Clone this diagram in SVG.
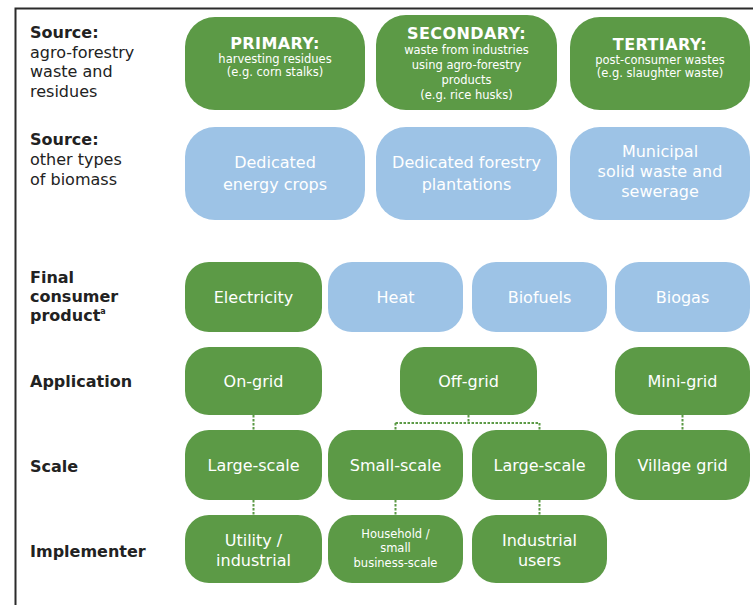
<svg xmlns="http://www.w3.org/2000/svg" width="753" height="605" viewBox="0 0 753 605">
<style>
  .g { fill: #5C9A46; }
  .b { fill: #9DC3E6; }
  text { font-family: "DejaVu Sans", Verdana, sans-serif; }
  .t { fill: #ffffff; font-size: 16px; text-anchor: middle; }
  .h { fill: #ffffff; font-size: 16px; font-weight: bold; text-anchor: middle; letter-spacing: 0.4px; }
  .s { fill: #ffffff; font-size: 11.5px; text-anchor: middle; }
  .lb { fill: #222222; font-size: 16px; font-weight: bold; }
  .lr { fill: #222222; font-size: 16px; }
  .c { stroke: #5C9A46; stroke-width: 2; stroke-dasharray: 2.5 1.5; fill: none; }
  .frame { stroke: #2b2b2b; stroke-width: 2; fill: none; }
</style>
<rect x="0" y="0" width="753" height="605" fill="#ffffff"/>
<path class="frame" d="M15.5,605 V8.5 H753"/>

<g id="labels">
  <text class="lb" x="30" y="38">Source:</text>
  <text class="lr" x="30" y="58">agro-forestry</text>
  <text class="lr" x="30" y="77">waste and</text>
  <text class="lr" x="30" y="97">residues</text>
  <text class="lb" x="30" y="145">Source:</text>
  <text class="lr" x="30" y="165">other types</text>
  <text class="lr" x="30" y="185">of biomass</text>
  <text class="lb" x="30" y="283">Final</text>
  <text class="lb" x="30" y="302">consumer</text>
  <text class="lb" x="30" y="321">product<tspan font-size="8" dy="-7">a</tspan></text>
  <text class="lb" x="30" y="387">Application</text>
  <text class="lb" x="30" y="472">Scale</text>
  <text class="lb" x="30" y="557">Implementer</text>
</g>

<g id="connectors">
  <path class="c" d="M253.5,415 V430"/>
  <path class="c" d="M253.5,500 V515"/>
  <path class="c" d="M468.5,415 V423 M395.5,423 H539.5 M395.5,423 V430 M539.5,423 V430"/>
  <path class="c" d="M395.5,500 V515"/>
  <path class="c" d="M539.5,500 V515"/>
  <path class="c" d="M682.5,415 V430"/>
</g>

<g id="primary">
  <rect class="g" x="185" y="17" width="180" height="93" rx="30"/>
  <text class="h" x="275" y="49">PRIMARY:</text>
  <text class="s" x="275" y="63">harvesting residues</text>
  <text class="s" x="275" y="76">(e.g. corn stalks)</text>
</g>
<g id="secondary">
  <rect class="g" x="376" y="15" width="181" height="95" rx="30"/>
  <text class="h" x="466.5" y="39">SECONDARY:</text>
  <text class="s" x="466.5" y="54">waste from industries</text>
  <text class="s" x="466.5" y="69">using agro-forestry</text>
  <text class="s" x="466.5" y="84">products</text>
  <text class="s" x="466.5" y="99">(e.g. rice husks)</text>
</g>
<g id="tertiary">
  <rect class="g" x="570" y="17" width="180" height="93" rx="30"/>
  <text class="h" x="660" y="50">TERTIARY:</text>
  <text class="s" x="660" y="64">post-consumer wastes</text>
  <text class="s" x="660" y="77">(e.g. slaughter waste)</text>
</g>

<g id="energy-crops">
  <rect class="b" x="185" y="127" width="180" height="93" rx="30"/>
  <text class="t" x="275" y="168">Dedicated</text>
  <text class="t" x="275" y="190">energy crops</text>
</g>
<g id="forestry">
  <rect class="b" x="376" y="127" width="181" height="93" rx="30"/>
  <text class="t" x="466.5" y="168">Dedicated forestry</text>
  <text class="t" x="466.5" y="190">plantations</text>
</g>
<g id="municipal">
  <rect class="b" x="570" y="127" width="180" height="93" rx="30"/>
  <text class="t" x="660" y="157">Municipal</text>
  <text class="t" x="660" y="177">solid waste and</text>
  <text class="t" x="660" y="197">sewerage</text>
</g>

<g id="electricity">
  <rect class="g" x="185" y="262" width="137" height="70" rx="24"/>
  <text class="t" x="253.5" y="303">Electricity</text>
</g>
<g id="heat">
  <rect class="b" x="328" y="262" width="135" height="70" rx="24"/>
  <text class="t" x="395.5" y="303">Heat</text>
</g>
<g id="biofuels">
  <rect class="b" x="472" y="262" width="135" height="70" rx="24"/>
  <text class="t" x="539.5" y="303">Biofuels</text>
</g>
<g id="biogas">
  <rect class="b" x="615" y="262" width="135" height="70" rx="24"/>
  <text class="t" x="682.5" y="303">Biogas</text>
</g>

<g id="on-grid">
  <rect class="g" x="185" y="347" width="137" height="68" rx="24"/>
  <text class="t" x="253.5" y="387">On-grid</text>
</g>
<g id="off-grid">
  <rect class="g" x="400" y="347" width="137" height="68" rx="24"/>
  <text class="t" x="468.5" y="387">Off-grid</text>
</g>
<g id="mini-grid">
  <rect class="g" x="615" y="347" width="135" height="68" rx="24"/>
  <text class="t" x="682.5" y="387">Mini-grid</text>
</g>

<g id="large-scale-1">
  <rect class="g" x="185" y="430" width="137" height="70" rx="24"/>
  <text class="t" x="253.5" y="471">Large-scale</text>
</g>
<g id="small-scale">
  <rect class="g" x="328" y="430" width="135" height="70" rx="24"/>
  <text class="t" x="395.5" y="471">Small-scale</text>
</g>
<g id="large-scale-2">
  <rect class="g" x="472" y="430" width="135" height="70" rx="24"/>
  <text class="t" x="539.5" y="471">Large-scale</text>
</g>
<g id="village-grid">
  <rect class="g" x="615" y="430" width="135" height="70" rx="24"/>
  <text class="t" x="682.5" y="471">Village grid</text>
</g>

<g id="utility">
  <rect class="g" x="185" y="515" width="137" height="68" rx="24"/>
  <text class="t" x="253.5" y="546">Utility /</text>
  <text class="t" x="253.5" y="566">industrial</text>
</g>
<g id="household">
  <rect class="g" x="328" y="515" width="135" height="68" rx="24"/>
  <text class="s" x="395.5" y="538">Household /</text>
  <text class="s" x="395.5" y="552">small</text>
  <text class="s" x="395.5" y="567">business-scale</text>
</g>
<g id="industrial-users">
  <rect class="g" x="472" y="515" width="135" height="68" rx="24"/>
  <text class="t" x="539.5" y="546">Industrial</text>
  <text class="t" x="539.5" y="566">users</text>
</g>
</svg>
